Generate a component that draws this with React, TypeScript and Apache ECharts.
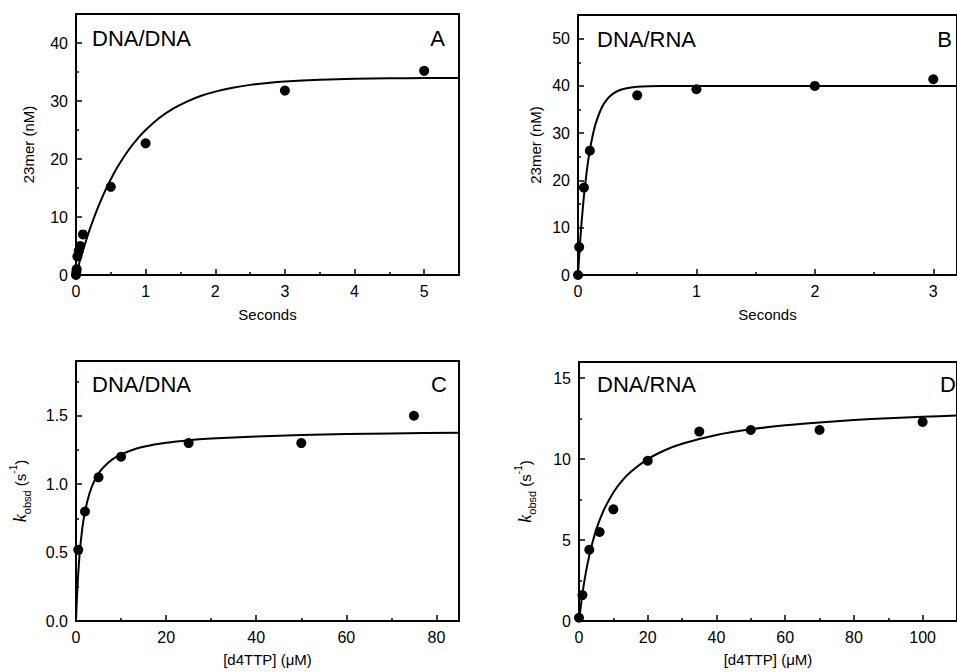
import React, { useEffect, useRef } from 'react';
import * as echarts from 'echarts';

// Panel A: DNA/DNA time course
const aTime = [0, 0.005, 0.01, 0.02, 0.04, 0.06, 0.1, 0.5, 1, 3, 5];
const aProduct = [0, 0.5, 1, 3.2, 4.2, 5.0, 7.0, 15.2, 22.7, 31.8, 35.2];
const aFitX = [0, 0.05, 0.1, 0.2, 0.3, 0.4, 0.5, 0.6, 0.75, 0.9, 1, 1.2, 1.4, 1.6, 1.8, 2, 2.25, 2.5, 2.75, 3, 3.5, 4, 4.5, 5, 5.5];
const aFitY = [0, 2.19, 4.23, 7.94, 11.19, 14.03, 16.51, 18.69, 21.46, 23.73, 25.0, 27.1, 28.72, 29.95, 30.9, 31.62, 32.3, 32.78, 33.12, 33.37, 33.68, 33.83, 33.91, 33.96, 33.98];

// Panel B: DNA/RNA time course
const bTime = [0, 0.01, 0.05, 0.1, 0.5, 1, 2, 3];
const bProduct = [0, 5.9, 18.5, 26.3, 38, 39.3, 40, 41.4];
const bFitX = [0, 0.01, 0.02, 0.03, 0.05, 0.075, 0.1, 0.125, 0.15, 0.2, 0.25, 0.3, 0.35, 0.4, 0.5, 0.6, 0.8, 1, 2, 3.3];
const bFitY = [0, 4.1, 7.77, 11.07, 16.69, 22.2, 26.4, 29.6, 32.08, 35.39, 37.31, 38.43, 39.09, 39.47, 39.82, 39.94, 39.99, 40, 40, 40];

// Panel C: DNA/DNA kobs vs [d4TTP]
const cConc = [0.5, 2, 5, 10, 25, 50, 75];
const cKobs = [0.52, 0.8, 1.05, 1.2, 1.3, 1.3, 1.5];
const cFitX = [0, 0.1, 0.25, 0.5, 0.75, 1, 1.5, 2, 3, 4, 5, 6, 8, 10, 12.5, 15, 20, 25, 30, 40, 50, 60, 70, 85];
const cFitY = [0, 0.0875, 0.2, 0.35, 0.467, 0.56, 0.7, 0.8, 0.933, 1.018, 1.077, 1.12, 1.179, 1.217, 1.25, 1.273, 1.302, 1.321, 1.333, 1.349, 1.359, 1.366, 1.371, 1.376];

// Panel D: DNA/RNA kobs vs [d4TTP]
const dConc = [0, 1, 3, 6, 10, 20, 35, 50, 70, 100];
const dKobs = [0.2, 1.6, 4.4, 5.5, 6.9, 9.9, 11.7, 11.8, 11.8, 12.3];
const dFitX = [0, 1, 2, 3, 4, 5, 6, 7.5, 10, 12.5, 15, 20, 25, 30, 40, 50, 60, 70, 80, 90, 100, 110];
const dFitY = [0, 1.69, 3.0, 4.05, 4.91, 5.63, 6.23, 6.98, 7.94, 8.65, 9.2, 10.0, 10.55, 10.95, 11.49, 11.84, 12.09, 12.27, 12.41, 12.53, 12.62, 12.69];

const FONT = 'Liberation Sans, Arial, Helvetica, sans-serif';

const zip = (xs: number[], ys: number[]) => xs.map((x, i) => [x, ys[i]]);

function xAxis(idx: number, max: number, interval: number, name: string, gap: number) {
  return {
    type: 'value',
    gridIndex: idx,
    min: 0,
    max,
    interval,
    name,
    nameLocation: 'middle',
    nameGap: gap,
    nameTextStyle: { fontFamily: FONT, fontSize: 15, color: '#000' },
    axisLine: { show: true, lineStyle: { color: '#000', width: 2 } },
    axisTick: { show: true, inside: true, length: 6, lineStyle: { color: '#000', width: 1.5 } },
    minorTick: { show: true, splitNumber: 2, length: 3, lineStyle: { color: '#000', width: 1.5 } },
    splitLine: { show: false },
    minorSplitLine: { show: false },
    axisLabel: { fontFamily: FONT, fontSize: 16, color: '#000', margin: 8, showMaxLabel: false },
  };
}

function yAxis(idx: number, max: number, interval: number, name: string, gap: number, fmt?: (v: number) => string, rich?: any) {
  return {
    type: 'value',
    gridIndex: idx,
    min: 0,
    max,
    interval,
    name,
    nameLocation: 'middle',
    nameGap: gap,
    nameTextStyle: { fontFamily: FONT, fontSize: 15, color: '#000', rich },
    axisLine: { show: true, lineStyle: { color: '#000', width: 2 } },
    axisTick: { show: true, inside: true, length: 6, lineStyle: { color: '#000', width: 1.5 } },
    minorTick: { show: true, splitNumber: 2, length: 3, lineStyle: { color: '#000', width: 1.5 } },
    splitLine: { show: false },
    minorSplitLine: { show: false },
    axisLabel: {
      fontFamily: FONT, fontSize: 16, color: '#000', margin: 8, showMaxLabel: false,
      formatter: fmt,
    },
  };
}

const kRich = {
  k: { fontFamily: 'Liberation Serif, serif', fontStyle: 'italic', fontSize: 18, color: '#000', lineHeight: 24, verticalAlign: 'middle' },
  sub: { fontFamily: FONT, fontSize: 11, color: '#000', lineHeight: 24, verticalAlign: 'bottom' },
  t: { fontFamily: FONT, fontSize: 15, color: '#000', lineHeight: 24, verticalAlign: 'middle' },
  sup: { fontFamily: FONT, fontSize: 10, color: '#000', lineHeight: 24, verticalAlign: 'top' },
};

function scatter(idx: number, data: number[][]) {
  return {
    type: 'scatter',
    xAxisIndex: idx,
    yAxisIndex: idx,
    data,
    symbol: 'circle',
    symbolSize: 10,
    itemStyle: { color: '#000', opacity: 1 },
    clip: false,
    z: 4,
  };
}

function fit(idx: number, data: number[][]) {
  return {
    type: 'line',
    xAxisIndex: idx,
    yAxisIndex: idx,
    data,
    smooth: 0.2,
    showSymbol: false,
    symbol: 'none',
    lineStyle: { color: '#000', width: 2 },
    z: 3,
  };
}

function label(text: string, x: number, y: number, align: string) {
  return {
    type: 'text',
    x,
    y,
    z: 10,
    style: {
      text,
      fill: '#000',
      font: `22px ${FONT}`,
      align,
      verticalAlign: 'middle',
    },
  };
}

export default function App() {
  const ref = useRef<HTMLDivElement>(null);
  useEffect(() => {
    if (!ref.current) return;
    const chart = echarts.init(ref.current, null, { renderer: 'svg' });
    const gridBase = { show: true, borderColor: '#000', borderWidth: 2, containLabel: false, backgroundColor: 'transparent' };
    chart.setOption({
      animation: false,
      backgroundColor: '#fff',
      grid: [
        { ...gridBase, left: 76, top: 14, width: 383, height: 261 },
        { ...gridBase, left: 578, top: 15, width: 383, height: 260 },
        { ...gridBase, left: 76, top: 361, width: 383, height: 260 },
        { ...gridBase, left: 579, top: 362, width: 387, height: 259 },
      ],
      xAxis: [
        xAxis(0, 5.5, 1, 'Seconds', 32),
        xAxis(1, 3.2, 1, 'Seconds', 32),
        xAxis(2, 85, 20, '[d4TTP] (\u03bcM)', 31),
        xAxis(3, 110, 20, '[d4TTP] (\u03bcM)', 31),
      ],
      yAxis: [
        yAxis(0, 45, 10, '23mer (nM)', 40),
        yAxis(1, 55, 10, '23mer (nM)', 35),
        yAxis(2, 1.9, 0.5, '{k|k}{sub|obsd}{t| (s}{sup|-1}{t|)}', 44, (v: number) => v.toFixed(1), kRich),
        yAxis(3, 16, 5, '{k|k}{sub|obsd}{t| (s}{sup|-1}{t|)}', 42, undefined, kRich),
      ],
      series: [
        fit(0, zip(aFitX, aFitY)),
        scatter(0, zip(aTime, aProduct)),
        fit(1, zip(bFitX, bFitY)),
        scatter(1, zip(bTime, bProduct)),
        fit(2, zip(cFitX, cFitY)),
        scatter(2, zip(cConc, cKobs)),
        fit(3, zip(dFitX, dFitY)),
        scatter(3, zip(dConc, dKobs)),
      ],
      graphic: [
        label('DNA/DNA', 92, 38, 'left'),
        label('A', 445, 38, 'right'),
        label('DNA/RNA', 597, 39, 'left'),
        label('B', 952, 39, 'right'),
        label('DNA/DNA', 92, 384, 'left'),
        label('C', 447, 384, 'right'),
        label('DNA/RNA', 597, 384, 'left'),
        label('D', 940, 384, 'left'),
      ],
    });
    return () => chart.dispose();
  }, []);
  return <div ref={ref} style={{ position: 'absolute', left: 0, top: 0, width: 957, height: 672 }} />;
}
